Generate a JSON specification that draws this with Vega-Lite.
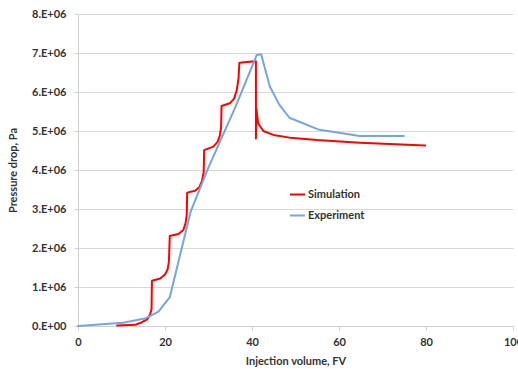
{
  "$schema": "https://vega.github.io/schema/vega-lite/v6.json",
  "width": 435,
  "height": 312,
  "autosize": {"type": "none"},
  "padding": {"left": 78, "top": 14, "right": 5, "bottom": 43},
  "background": "white",
  "config": {
    "view": {"stroke": null},
    "font": "Lato",
    "axis": {
      "labelFont": "Lato", "labelFontWeight": "bold", "labelFontSize": 11, "labelColor": "#333333",
      "titleFont": "Lato", "titleFontWeight": "bold", "titleFontSize": 11, "titleColor": "#333333",
      "domainColor": "#d0d0d0", "tickColor": "#d0d0d0", "gridColor": "#d9d9d9", "tickSize": 4
    },
    "legend": {"labelFont": "Lato", "labelFontWeight": "bold", "labelFontSize": 11, "labelColor": "#333333"}
  },
  "data": {
    "values": [
      {"series": "Simulation", "x": 9.0, "y": 10000},
      {"series": "Simulation", "x": 13.1, "y": 30000},
      {"series": "Simulation", "x": 14.6, "y": 90000},
      {"series": "Simulation", "x": 15.9, "y": 170000},
      {"series": "Simulation", "x": 16.5, "y": 280000},
      {"series": "Simulation", "x": 16.9, "y": 420000},
      {"series": "Simulation", "x": 17.0, "y": 1160000},
      {"series": "Simulation", "x": 18.9, "y": 1220000},
      {"series": "Simulation", "x": 20.0, "y": 1320000},
      {"series": "Simulation", "x": 20.6, "y": 1450000},
      {"series": "Simulation", "x": 20.9, "y": 1650000},
      {"series": "Simulation", "x": 21.1, "y": 2310000},
      {"series": "Simulation", "x": 23.1, "y": 2360000},
      {"series": "Simulation", "x": 24.2, "y": 2460000},
      {"series": "Simulation", "x": 24.7, "y": 2620000},
      {"series": "Simulation", "x": 25.0, "y": 2850000},
      {"series": "Simulation", "x": 25.1, "y": 3420000},
      {"series": "Simulation", "x": 26.9, "y": 3470000},
      {"series": "Simulation", "x": 27.9, "y": 3560000},
      {"series": "Simulation", "x": 28.5, "y": 3720000},
      {"series": "Simulation", "x": 28.9, "y": 3950000},
      {"series": "Simulation", "x": 29.0, "y": 4510000},
      {"series": "Simulation", "x": 31.1, "y": 4600000},
      {"series": "Simulation", "x": 32.1, "y": 4720000},
      {"series": "Simulation", "x": 32.6, "y": 4880000},
      {"series": "Simulation", "x": 32.9, "y": 5100000},
      {"series": "Simulation", "x": 33.0, "y": 5640000},
      {"series": "Simulation", "x": 34.9, "y": 5710000},
      {"series": "Simulation", "x": 35.9, "y": 5830000},
      {"series": "Simulation", "x": 36.5, "y": 6050000},
      {"series": "Simulation", "x": 36.9, "y": 6350000},
      {"series": "Simulation", "x": 37.1, "y": 6750000},
      {"series": "Simulation", "x": 40.7, "y": 6790000},
      {"series": "Simulation", "x": 40.9, "y": 6790000},
      {"series": "Simulation", "x": 40.9, "y": 4810000},
      {"series": "Simulation", "x": 41.0, "y": 5580000},
      {"series": "Simulation", "x": 41.4, "y": 5200000},
      {"series": "Simulation", "x": 42.6, "y": 5000000},
      {"series": "Simulation", "x": 44.9, "y": 4900000},
      {"series": "Simulation", "x": 48.7, "y": 4830000},
      {"series": "Simulation", "x": 54.9, "y": 4770000},
      {"series": "Simulation", "x": 64.8, "y": 4700000},
      {"series": "Simulation", "x": 79.8, "y": 4630000},
      {"series": "Experiment", "x": 0, "y": 0},
      {"series": "Experiment", "x": 10.4, "y": 85000},
      {"series": "Experiment", "x": 15.6, "y": 200000},
      {"series": "Experiment", "x": 18.5, "y": 370000},
      {"series": "Experiment", "x": 21.1, "y": 740000},
      {"series": "Experiment", "x": 25.9, "y": 2930000},
      {"series": "Experiment", "x": 29.9, "y": 4040000},
      {"series": "Experiment", "x": 36.2, "y": 5620000},
      {"series": "Experiment", "x": 41.1, "y": 6950000},
      {"series": "Experiment", "x": 42.1, "y": 6970000},
      {"series": "Experiment", "x": 44.1, "y": 6140000},
      {"series": "Experiment", "x": 46.3, "y": 5670000},
      {"series": "Experiment", "x": 48.6, "y": 5340000},
      {"series": "Experiment", "x": 55.2, "y": 5040000},
      {"series": "Experiment", "x": 64.8, "y": 4870000},
      {"series": "Experiment", "x": 74.9, "y": 4870000}
    ]
  },
  "mark": {"type": "line", "strokeWidth": 2, "strokeJoin": "round", "strokeCap": "round", "interpolate": "linear"},
  "encoding": {
    "x": {
      "field": "x", "type": "quantitative",
      "scale": {"domain": [0, 100], "nice": false},
      "axis": {"values": [0, 20, 40, 60, 80, 100], "grid": false, "title": "Injection volume, FV", "labelPadding": 6, "titlePadding": 8, "labelFlush": false}
    },
    "y": {
      "field": "y", "type": "quantitative",
      "scale": {"domain": [0, 8000000], "nice": false},
      "axis": {
        "values": [0, 1000000, 2000000, 3000000, 4000000, 5000000, 6000000, 7000000, 8000000],
        "labelExpr": "datum.value == 0 ? '0.E+00' : format(datum.value / 1000000, 'd') + '.E+06'",
        "title": "Pressure drop, Pa", "labelPadding": 8, "titlePadding": 13
      }
    },
    "color": {
      "field": "series", "type": "nominal",
      "scale": {"domain": ["Simulation", "Experiment"], "range": ["#ff0000", "#77a5dc"]},
      "legend": {"title": null, "orient": "none", "legendX": 211, "legendY": 172, "symbolType": "stroke", "symbolSize": 225, "symbolStrokeWidth": 2, "rowPadding": 7, "labelOffset": 2, "padding": 0}
    },
    "order": {"value": null}
  }
}
